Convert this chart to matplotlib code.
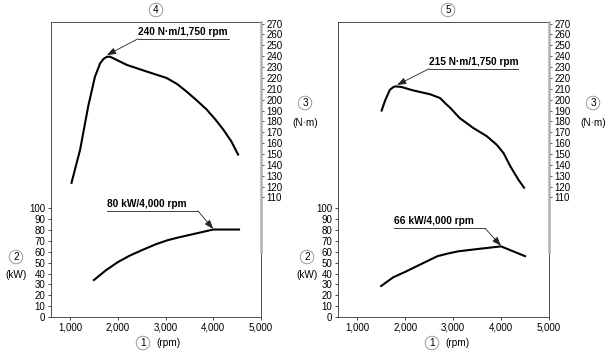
import matplotlib
matplotlib.use("Agg")
import matplotlib.pyplot as plt

plt.rcParams['font.family'] = ['Liberation Sans', 'DejaVu Sans']

# engine 4 (left panel)
rpm_torque_4 = [1030, 1210, 1380, 1520, 1630, 1700, 1770, 1840, 1910, 2050, 2190, 2530,
                3020, 3240, 3440, 3650, 3860, 4040, 4210, 4380, 4520]
torque_4 = [123.5, 154, 194, 221, 233.5, 237.5, 239.5, 239.5, 238, 235, 232, 227,
            220, 214.5, 207.5, 199.5, 191, 182, 172.5, 161.5, 149.5]
rpm_power_4 = [1500, 1750, 2000, 2250, 2530, 2800, 3030, 3250, 3500, 3750, 4000, 4540]
power_4 = [34, 43, 50.5, 56.5, 62, 67, 70.5, 73, 75.5, 78, 80.5, 80.5]

# engine 5 (right panel)
rpm_torque_5 = [1510, 1580, 1680, 1750, 1800, 1930, 2170, 2520, 2730, 2830, 2940, 3140,
                3420, 3700, 3910, 4050, 4190, 4360, 4480]
torque_5 = [190, 199, 209, 211.5, 212.3, 211.6, 208.5, 205, 201.5, 197, 192.5, 183,
            174, 166.5, 158.5, 151, 139, 126.5, 119]
rpm_power_5 = [1500, 1750, 2000, 2300, 2675, 2900, 3115, 3500, 4000, 4500]
power_5 = [28.5, 36.5, 41.5, 48, 56, 58.5, 60.5, 62.5, 65, 56]

left_ticks = list(range(0, 101, 10))
right_ticks = list(range(110, 271, 10))
x_ticks = [1000, 2000, 3000, 4000, 5000]
x_labels = ['1,000', '2,000', '3,000', '4,000', '5,000']

fig = plt.figure(figsize=(6.10, 3.53), dpi=100)

TXT = 7
LINE = '#222222'


def circled(x, y, s):
    fig.text(x / 610, 1 - y / 353, s, ha='center', va='center', fontsize=7.2,
             bbox=dict(boxstyle='circle,pad=0.18', fc='white', ec='#8a8a8a', lw=0.6))


def note(ax, label, tip, corner, end, text_y):
    # underline + arrow leading to the marked point
    ax.plot([corner[0], end], [corner[1], corner[1]], color=LINE, lw=0.6)
    start = corner if tip[0] < corner[0] else (end, corner[1])
    ax.annotate('', xy=tip, xytext=start,
                arrowprops=dict(arrowstyle='-|>,head_length=0.55,head_width=0.2',
                                color=LINE, lw=0.6, shrinkA=0, shrinkB=0))
    ax.text(corner[0], text_y, label, fontsize=7.3, fontweight='bold',
            ha='left', va='bottom')


def panel(rect, rpm_t, tq, rpm_p, pw):
    ax = fig.add_axes(rect)
    ax.plot(rpm_t, tq, color='black', lw=1.5, solid_joinstyle='round')
    ax.plot(rpm_p, pw, color='black', lw=1.5, solid_joinstyle='round')
    ax.set_xlim(600, 5000)
    ax.set_ylim(0, 271.5)
    ax.set_xticks(x_ticks)
    ax.set_xticklabels(x_labels)
    ax.set_yticks(left_ticks)
    ax.tick_params(labelsize=TXT, length=2.5, width=0.5, pad=1.5)
    for side in ['left', 'bottom', 'top', 'right']:
        ax.spines[side].set_linewidth(0.6)
        ax.spines[side].set_color('#333333')
    ax2 = ax.twinx()
    ax2.set_ylim(0, 271.5)
    ax2.set_yticks(right_ticks)
    ax2.tick_params(labelsize=TXT, length=2.5, width=0.5, pad=1.5)
    for side in ['left', 'bottom', 'top']:
        ax2.spines[side].set_visible(False)
    ax2.spines['right'].set_color('#b0b0b0')
    ax2.spines['right'].set_linewidth(1.8)
    ax2.spines['right'].set_bounds(60, 271.5)
    return ax


ax4 = panel([51 / 610, 1 - 317 / 353, 210 / 610, 295 / 353],
            rpm_torque_4, torque_4, rpm_power_4, power_4)
note(ax4, '240 N·m/1,750 rpm', (1770, 241), (2420, 256), 4330, 257.5)
note(ax4, '80 kW/4,000 rpm', (4000, 81), (1770, 97.5), 3680, 99.5)

ax5 = panel([338 / 610, 1 - 317 / 353, 211 / 610, 295 / 353],
            rpm_torque_5, torque_5, rpm_power_5, power_5)
note(ax5, '215 N·m/1,750 rpm', (1830, 213.5), (2500, 228.5), 4360, 230.5)
note(ax5, '66 kW/4,000 rpm', (4000, 65.5), (1770, 81.5), 3670, 83.5)

# axis captions
circled(156, 10, '4')
circled(448, 10, '5')
for cx in (305, 593):
    circled(cx, 103, '3')
    fig.text(cx / 610, 1 - 123 / 353, '(N·m)', ha='center', va='center', fontsize=7.2)
for cx in (16, 307):
    circled(cx, 257, '2')
    fig.text(cx / 610, 1 - 275 / 353, '(kW)', ha='center', va='center', fontsize=7.2)
for cx in (143, 432):
    circled(cx, 343, '1')
    fig.text((cx + 13) / 610, 1 - 343 / 353, '(rpm)', ha='left', va='center', fontsize=7.3)

fig.savefig('out.png', dpi=100)
